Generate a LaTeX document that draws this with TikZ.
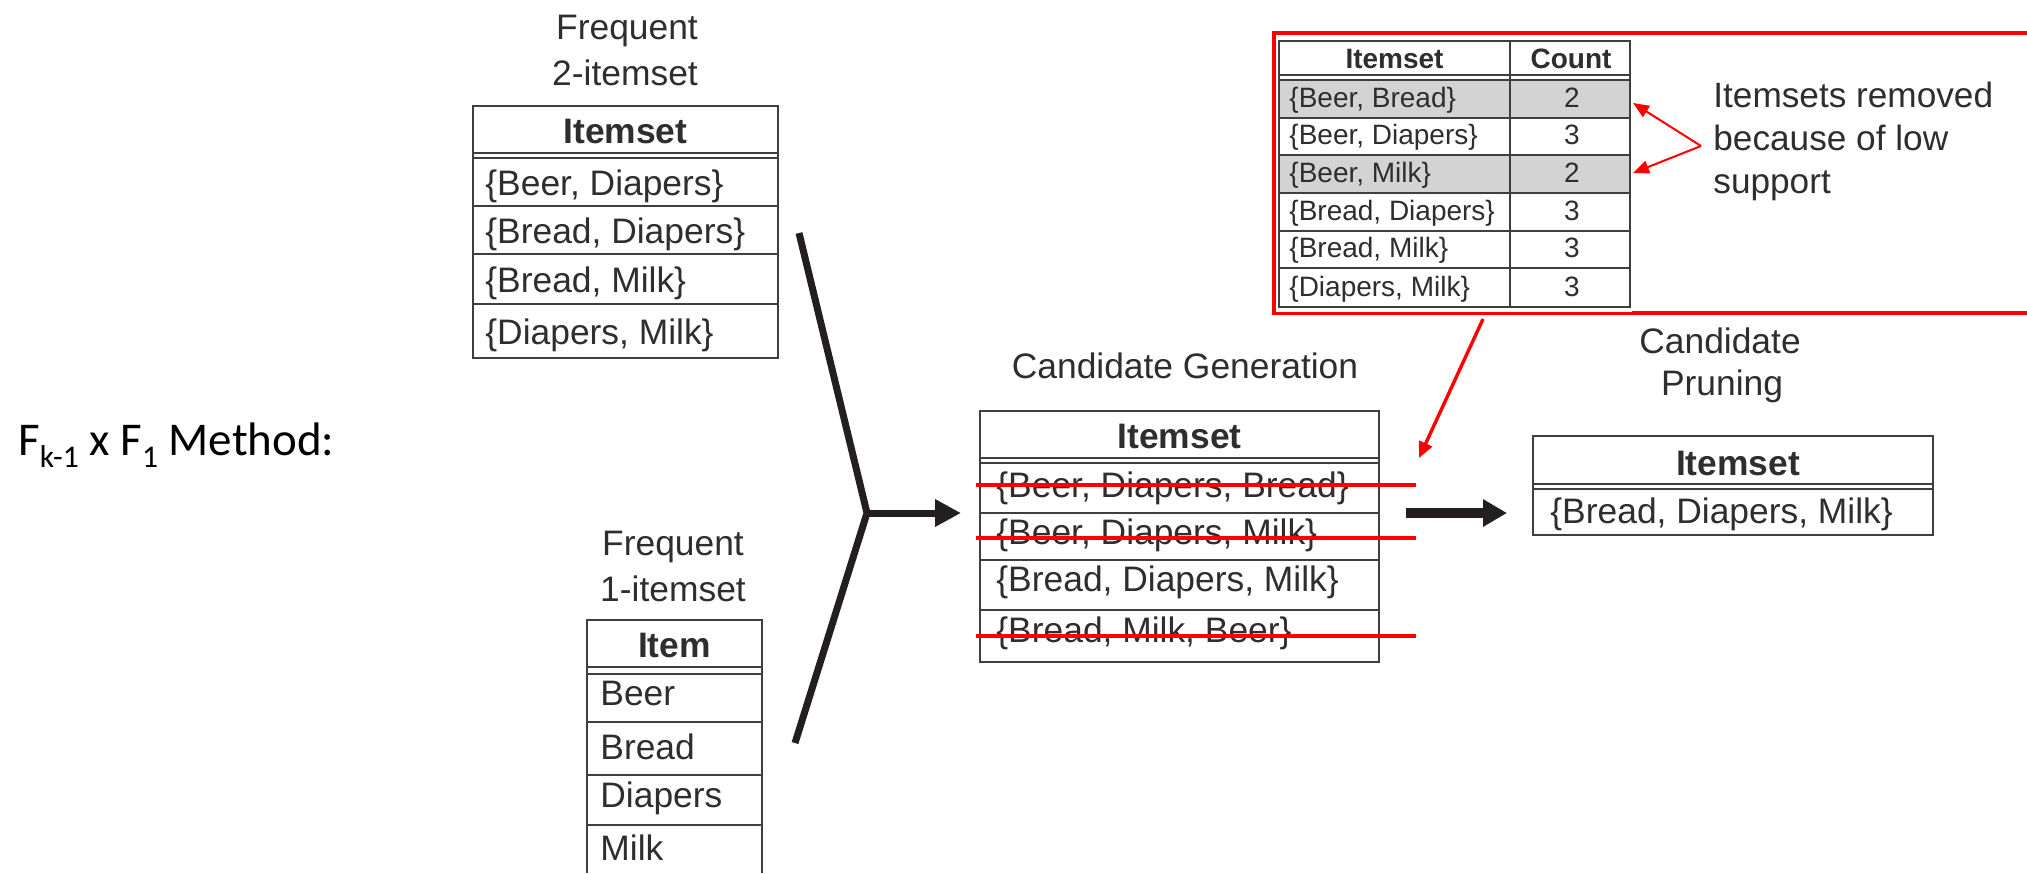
\documentclass[tikz,border=0pt]{standalone}
\usepackage{fontspec}
\setmainfont{Liberation Sans}
\newfontfamily\calfont{Carlito}
\usetikzlibrary{arrows.meta}
\definecolor{ink}{HTML}{2E2E2E}
\definecolor{rule}{HTML}{3F3F3F}
\definecolor{cellgray}{HTML}{D3D3D3}
\definecolor{mark}{HTML}{FF0000}
\definecolor{flow}{HTML}{231F20}
\tikzset{
  txt/.style={font=\fontsize{17.7}{21}\selectfont, text=ink, inner sep=0pt, anchor=base west},
  txtc/.style={txt, anchor=base},
  hdr/.style={txtc, font=\fontsize{17.7}{21}\selectfont\bfseries},
  sml/.style={font=\fontsize{14}{17}\selectfont, text=ink, inner sep=0pt, anchor=base west},
  smlc/.style={sml, anchor=base},
  smlh/.style={smlc, font=\fontsize{14}{17}\selectfont\bfseries},
  note/.style={font=\fontsize{17.6}{21}\selectfont, text=ink, inner sep=0pt, anchor=base west},
  grid/.style={draw=rule, line width=1pt},
  strike/.style={draw=mark, line width=2pt},
  flowline/.style={draw=flow, line width=3.5pt, line join=miter},
  redarrow/.style={draw=mark, line width=1pt, -{Triangle[length=8pt,width=6.5pt]}},
}
\begin{document}
\begin{tikzpicture}[x=0.5pt,y=-0.5pt]
\useasboundingbox (0,0) rectangle (2027,873);

% method title
\node[font=\calfont\fontsize{23.5}{28}\selectfont, inner sep=0pt, anchor=base west] (title) at (18,455)
  {F\raisebox{-6pt}{\fontsize{15.8}{16}\selectfont k-1} x F\raisebox{-6pt}{\fontsize{15.8}{16}\selectfont 1} Method:};

% frequent 2-itemsets
\node[txtc] (lab2a) at (627,39) {Frequent};
\node[txtc] (lab2b) at (625,85) {2-itemset};
\draw[grid] (473,106) rectangle (778,358);
\foreach \y in {153,158,206,254,304} \draw[grid] (473,\y) -- (778,\y);
\node[hdr] (t2h) at (625.5,143) {Itemset};
\node[txt] (t2a) at (485,195) {\{Beer, Diapers\}};
\node[txt] (t2b) at (485,243) {\{Bread, Diapers\}};
\node[txt] (t2c) at (485,292) {\{Bread, Milk\}};
\node[txt] (t2d) at (485,344) {\{Diapers, Milk\}};

% frequent 1-itemsets
\node[txtc] (lab1a) at (673,555) {Frequent};
\node[txtc] (lab1b) at (673,601) {1-itemset};
\draw[grid] (587,873) -- (587,620) -- (762,620) -- (762,873);
\foreach \y in {667,674,722,775,825} \draw[grid] (587,\y) -- (762,\y);
\node[hdr] (t1h) at (674.5,657) {Item};
\node[txt] (t1a) at (600,705) {Beer};
\node[txt] (t1b) at (600,759) {Bread};
\node[txt] (t1c) at (600,807) {Diapers};
\node[txt] (t1d) at (600,860) {Milk};

% merging fork
\coordinate (forkA) at (799,233);
\coordinate (forkJ) at (867,513);
\coordinate (forkB) at (795,743);
\coordinate (forkE) at (961,513);
\draw[flowline] (forkA) -- (forkJ) -- (forkB);
\draw[flowline, -{Triangle[length=13pt,width=13pt]}] (forkJ) -- (forkE);

% candidate generation
\node[txtc] (labg) at (1185,378) {Candidate Generation};
\draw[grid] (980,411) rectangle (1379,662);
\foreach \y in {458,463,513,560,610} \draw[grid] (980,\y) -- (1379,\y);
\node[hdr] (tgh) at (1179.5,448) {Itemset};
\node[txt] (tga) at (996,497) {\{Beer, Diapers, Bread\}};
\node[txt] (tgb) at (996,544) {\{Beer, Diapers, Milk\}};
\node[txt] (tgc) at (996,591) {\{Bread, Diapers, Milk\}};
\node[txt] (tgd) at (996,642) {\{Bread, Milk, Beer\}};
\draw[strike] (976,485) -- (1416,485);
\draw[strike] (976,538) -- (1416,538);
\draw[strike] (976,636) -- (1416,636);

% step to pruning
\coordinate (stepA) at (1406,513);
\coordinate (stepB) at (1507,513);
\draw[draw=flow, line width=5pt, -{Triangle[length=12pt,width=13pt]}] (stepA) -- (stepB);

% candidate pruning
\node[txtc] (labp1) at (1720,353) {Candidate};
\node[txtc] (labp2) at (1722,395) {Pruning};
\draw[grid] (1533,436) rectangle (1933,535);
\foreach \y in {484,489} \draw[grid] (1533,\y) -- (1933,\y);
\node[hdr] (tph) at (1738,475) {Itemset};
\node[txt] (tpa) at (1550,523) {\{Bread, Diapers, Milk\}};

% support counts of the 2-itemsets
\draw[draw=mark, line width=1.75pt] (1274,33) rectangle (2045,313);
\fill[white] (1275.5,34.5) rectangle (1632,311.5);
\fill[cellgray] (1279,80) rectangle (1630,118);
\fill[cellgray] (1279,155) rectangle (1630,193);
\draw[grid] (1279,41) rectangle (1630,307);
\draw[grid] (1510,41) -- (1510,307);
\foreach \y in {75,80,118,155,193,231,268} \draw[grid] (1279,\y) -- (1630,\y);
\node[smlh] (tch1) at (1394.5,68) {Itemset};
\node[smlh] (tch2) at (1571,68) {Count};
\node[sml] (tc1) at (1289,107) {\{Beer, Bread\}};
\node[sml] (tc2) at (1289,144) {\{Beer, Diapers\}};
\node[sml] (tc3) at (1289,182) {\{Beer, Milk\}};
\node[sml] (tc4) at (1289,220) {\{Bread, Diapers\}};
\node[sml] (tc5) at (1289,257) {\{Bread, Milk\}};
\node[sml] (tc6) at (1289,296) {\{Diapers, Milk\}};
\node[smlc] (cn1) at (1572,107) {2};
\node[smlc] (cn2) at (1572,144) {3};
\node[smlc] (cn3) at (1572,182) {2};
\node[smlc] (cn4) at (1572,220) {3};
\node[smlc] (cn5) at (1572,257) {3};
\node[smlc] (cn6) at (1572,296) {3};

% explanation and its pointers
\node[note] (note1) at (1713,107) {Itemsets removed};
\node[note] (note2) at (1713,150) {because of low};
\node[note] (note3) at (1713,193) {support};
\coordinate (noteP) at (1701,146);
\coordinate (rowA) at (1633,103);
\coordinate (rowB) at (1633,173);
\draw[redarrow] (noteP) -- (rowA);
\draw[redarrow] (noteP) -- (rowB);

% link to the struck candidates
\coordinate (boxOut) at (1483,319);
\coordinate (genIn) at (1419,458);
\draw[draw=mark, line width=1.7pt, -{Triangle[length=8pt,width=7pt]}] (boxOut) -- (genIn);
\end{tikzpicture}
\end{document}
